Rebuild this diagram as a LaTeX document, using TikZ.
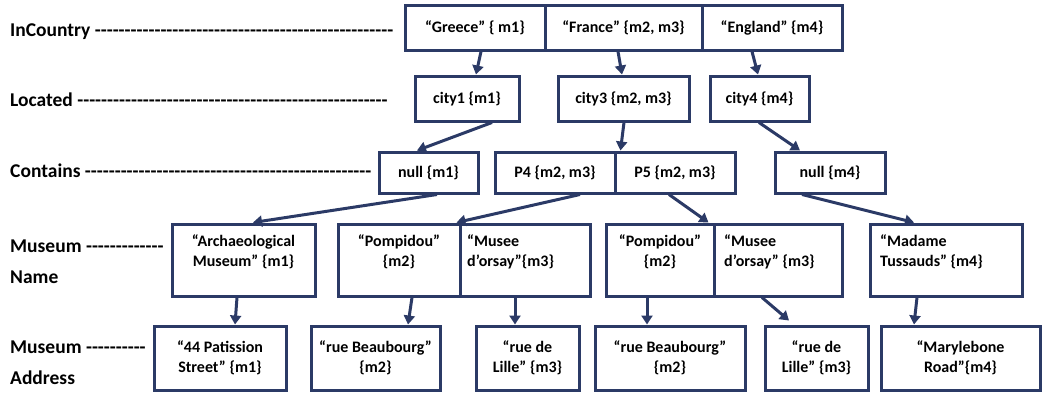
\documentclass[tikz,border=0pt]{standalone}
\usepackage{fontspec}
\setmainfont{Carlito}
\newfontfamily\lvlfont{Carlito}[Ligatures=TeXOff]
\usetikzlibrary{arrows.meta,positioning}
\definecolor{boxblue}{HTML}{2B3A66}
\newcommand\boxtextstyle{\fontsize{16}{20}\selectfont\bfseries}
\newcommand\lvltextstyle{\lvlfont\fontsize{19.5}{31}\selectfont\bfseries}
\newcommand\dashline[1]{\foreach\k in {1,...,#1}{-}}
\newcommand\recbox[6]{
  \node[box, minimum width=#4-#2, minimum height=#5-#3] (#1) at ({(#2+#4)/2}, {(#3+#5)/2}) {#6} ;
}
\tikzset{
  box/.style={draw=boxblue, line width=3pt, inner sep=0pt, align=center, font=\boxtextstyle},
  txt/.style={inner sep=0pt, font=\boxtextstyle},
  lvl/.style={anchor=west, inner sep=0pt, align=left, font=\lvltextstyle},
  arr/.style={draw=boxblue, line width=3pt, -{Triangle[length=9pt, width=11pt]}},
}

\begin{document}
\begin{tikzpicture}[x=1pt, y=-1pt]
    \useasboundingbox (0,0) rectangle (1042,392) ;
    \node[lvl] (incountry) at (10,32) {InCountry \dashline{50}} ;
    \node[lvl] (located) at (10,100) {Located \dashline{52}} ;
    \node[lvl] (contains) at (10,171) {Contains \dashline{48}} ;
    \node[lvl] (mname) at (10,262) {Museum \dashline{13}\\Name} ;
    \node[lvl] (maddr) at (10,363) {Museum \dashline{10}\\Address} ;
    % countries
    \recbox{greece}{405}{5}{545}{50}{“Greece” \{ m1\}}
    \recbox{france}{545}{5}{702}{50}{“France” \{m2, m3\}}
    \recbox{england}{702}{5}{842}{50}{“England” \{m4\}}
    % cities
    \recbox{city1}{415}{76}{519}{121}{city1 \{m1\}}
    \recbox{city3}{558}{76}{689}{121}{city3 \{m2, m3\}}
    \recbox{city4}{710}{76}{809}{121}{city4 \{m4\}}
    % places
    \recbox{nulla}{379}{152}{478}{193}{null \{m1\}}
    \recbox{p4}{495}{152}{615}{193}{P4 \{m2, m3\}}
    \recbox{p5}{615}{152}{735}{193}{P5 \{m2, m3\}}
    \recbox{nullb}{775}{152}{885}{193}{null \{m4\}}
    % museum names
    \recbox{arch}{172}{224}{315}{296}{}
    \recbox{pomp1}{338}{224}{460}{296}{}
    \recbox{musee1}{460}{224}{590}{296}{}
    \recbox{pomp2}{606}{224}{714}{296}{}
    \recbox{musee2}{714}{224}{842}{296}{}
    \recbox{madame}{870}{224}{1022}{296}{}
    \node[txt, anchor=north, align=center] (archtx) at (243.5,234) {“Archaeological\\Museum” \{m1\}} ;
    \node[txt, anchor=north, align=center] (pomp1tx) at (399,234) {“Pompidou”\\\{m2\}} ;
    \node[txt, anchor=north west, align=left] (musee1tx) at (467,234) {“Musee\\d’orsay”\{m3\}} ;
    \node[txt, anchor=north, align=center] (pomp2tx) at (660,234) {“Pompidou”\\\{m2\}} ;
    \node[txt, anchor=north west, align=left] (musee2tx) at (724,234) {“Musee\\d’orsay” \{m3\}} ;
    \node[txt, anchor=north west, align=left] (madametx) at (880,234) {“Madame\\Tussauds” \{m4\}} ;
    % addresses
    \recbox{pat}{154}{326}{286}{390}{“44 Patission\\Street” \{m1\}}
    \recbox{beau1}{311}{326}{440}{390}{“rue Beaubourg”\\\{m2\}}
    \recbox{lille1}{476}{326}{579}{390}{“rue de\\Lille” \{m3\}}
    \recbox{beau2}{595}{326}{745}{390}{“rue Beaubourg”\\\{m2\}}
    \recbox{lille2}{765}{326}{868}{390}{“rue de\\Lille” \{m3\}}
    \recbox{mary}{881}{326}{1040}{390}{“Marylebone\\Road”\{m4\}}
    % links
    \draw[arr] ([xshift=6pt]greece.south) -- ([xshift=9pt]city1.north) ;
    \draw[arr] ([xshift=-5.5pt]france.south) -- ([xshift=-1.5pt]city3.north) ;
    \draw[arr] ([xshift=-20pt]england.south) -- ([xshift=-1.5pt]city4.north) ;
    \draw[arr] ([xshift=25pt]city1.south) -- ([xshift=-11.5pt]nulla.north) ;
    \draw[arr] ([xshift=0.5pt]city3.south) -- ([xshift=4pt]p4.north east) ;
    \draw[arr] ([xshift=-0.5pt]city4.south) -- ([xshift=-30pt]nullb.north) ;
    \draw[arr] ([xshift=8.5pt]nulla.south) -- ([xshift=9.5pt]arch.north) ;
    \draw[arr] ([xshift=25pt]p4.south) -- ([xshift=-5pt]pomp1.north east) ;
    \draw[arr] ([xshift=-6pt]p5.south) -- ([xshift=-4pt]musee2.north west) ;
    \draw[arr] ([xshift=-28pt]nullb.south) -- ([xshift=-32pt]madame.north) ;
    \draw[arr] ([xshift=-6.5pt]arch.south) -- ([xshift=15pt]pat.north) ;
    \draw[arr] ([xshift=13pt]pomp1.south) -- ([xshift=32.5pt]beau1.north) ;
    \draw[arr] ([xshift=-10pt]musee1.south) -- ([xshift=-12.5pt]lille1.north) ;
    \draw[arr] ([xshift=-13pt]pomp2.south) -- ([xshift=-23pt]beau2.north) ;
    \draw[arr] ([xshift=-16pt]musee2.south) -- ([xshift=-27.5pt, yshift=4pt]lille2.north) ;
    \draw[arr] ([xshift=-29pt]madame.south) -- ([xshift=-46.5pt]mary.north) ;
\end{tikzpicture}
\end{document}
